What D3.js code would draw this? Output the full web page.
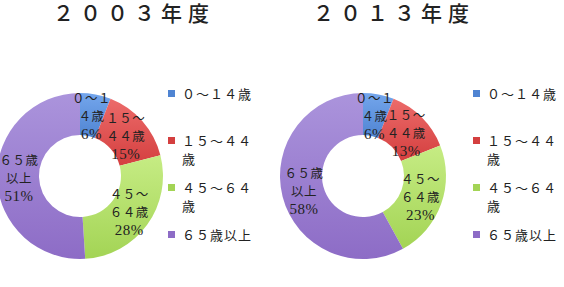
<!DOCTYPE html>
<html>
<head>
<meta charset="utf-8">
<script src="https://cdn.jsdelivr.net/npm/d3@7"></script>
<style>
  body { margin: 0; background: #fff; }
  text { font-family: "Liberation Serif", "Noto Sans CJK JP", serif; fill: #222; }
</style>
</head>
<body>
<div id="chart"></div>
<script>
// chart data
var categories = ['０～１４歳', '１５～４４歳', '４５～６４歳', '６５歳以上'];
var years = ['２００３年度', '２０１３年度'];
var values2003 = [6, 15, 28, 51];
var values2013 = [6, 13, 23, 58];
var sliceLabels = [['０～１', '４歳'], ['１５～', '４４歳'], ['４５～', '６４歳'], ['６５歳', '以上']];
var legendLabels = [['０～１４歳'], ['１５～４４', '歳'], ['４５～６４', '歳'], ['６５歳以上']];

var colorTop = ['#74a6ec', '#ec6b6a', '#c6ec84', '#ab94dc'];
var colorBottom = ['#4f84d2', '#d43f3f', '#a3d455', '#8d6cc6'];

var width = 564, height = 287;
var svg = d3.select('#chart').append('svg')
    .attr('width', width)
    .attr('height', height);

var defs = svg.append('defs');
categories.forEach(function (c, i) {
    var g = defs.append('linearGradient')
        .attr('id', 'grad' + i)
        .attr('x1', 0).attr('y1', 0).attr('x2', 0).attr('y2', 1);
    g.append('stop').attr('offset', '0%').attr('stop-color', colorTop[i]);
    g.append('stop').attr('offset', '100%').attr('stop-color', colorBottom[i]);
});

var panels = [
    { title: years[0], values: values2003, x: 0, titleX: 134, legendX: 168 },
    { title: years[1], values: values2013, x: 283, titleX: 111, legendX: 190 }
];

var outerR = 83, innerR = 41, labelR = 61;
var cx = 80, cy = 176;

var pie = d3.pie().sort(null).value(function (d) { return d; });
var arc = d3.arc().innerRadius(innerR).outerRadius(outerR);
var labelArc = d3.arc().innerRadius(labelR).outerRadius(labelR);
var legendY = d3.scalePoint().domain(categories).range([94, 235]);

panels.forEach(function (p) {
    var g = svg.append('g').attr('transform', 'translate(' + p.x + ',0)');

    g.append('text')
        .attr('x', p.titleX)
        .attr('y', 21)
        .attr('text-anchor', 'middle')
        .style('font-size', '21px')
        .style('font-weight', '500')
        .style('letter-spacing', '6px')
        .text(p.title);

    var donut = g.append('g').attr('transform', 'translate(' + cx + ',' + cy + ')');
    var arcs = pie(p.values);

    donut.selectAll('path')
        .data(arcs)
        .enter().append('path')
        .attr('d', arc)
        .attr('fill', function (d, i) { return 'url(#grad' + i + ')'; });

    var labels = donut.selectAll('g.lbl')
        .data(arcs)
        .enter().append('g')
        .attr('class', 'lbl')
        .attr('transform', function (d) {
            var c = labelArc.centroid(d);
            return 'translate(' + c[0] + ',' + c[1] + ')';
        });

    labels.each(function (d, i) {
        var lines = sliceLabels[i].concat([d.data + '%']);
        d3.select(this).selectAll('text')
            .data(lines)
            .enter().append('text')
            .attr('text-anchor', 'middle')
            .attr('y', function (t, j) { return (j - 1) * 18 + 5; })
            .style('font-size', function (t, j) { return j === 2 ? '15px' : '12.5px'; })
            .style('letter-spacing', '0.5px')
            .text(function (t) { return t; });
    });

    var legend = g.selectAll('g.leg')
        .data(categories)
        .enter().append('g')
        .attr('class', 'leg')
        .attr('transform', function (d) {
            return 'translate(' + p.legendX + ',' + legendY(d) + ')';
        });

    legend.append('rect')
        .attr('x', 0).attr('y', -4)
        .attr('width', 7).attr('height', 7)
        .attr('fill', function (d, i) { return colorBottom[i]; });

    legend.each(function (d, i) {
        d3.select(this).selectAll('text')
            .data(legendLabels[i])
            .enter().append('text')
            .attr('x', 14)
            .attr('y', function (t, j) { return j * 18 + 5; })
            .style('font-size', '13px')
            .style('letter-spacing', '1px')
            .text(function (t) { return t; });
    });
});
</script>
</body>
</html>
